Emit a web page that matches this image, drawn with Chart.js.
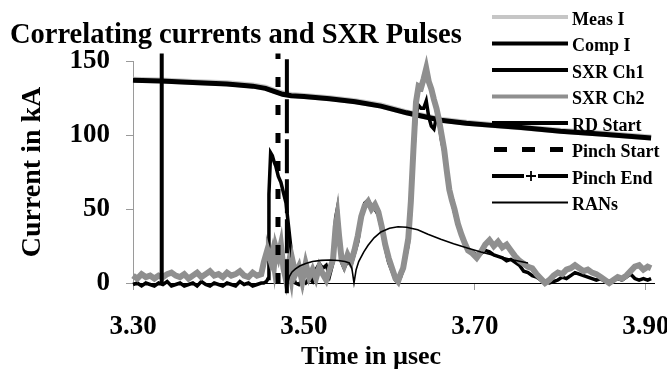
<!DOCTYPE html>
<html>
<head>
<meta charset="utf-8">
<script src="https://cdn.jsdelivr.net/npm/chart.js@4.4.0/dist/chart.umd.min.js"></script>
<style>
  html, body { margin: 0; padding: 0; background: #fff; }
  #wrap { width: 667px; height: 370px; }
</style>
</head>
<body>
<div id="wrap"><canvas id="c" width="667" height="370"></canvas></div>
<script>
// ---------- data ----------
const xTicks = [3.30, 3.50, 3.70, 3.90];
const yTicks = [0, 50, 100, 150];

// current traces (kA)
const tI    = [3.300,3.333,3.370,3.410,3.440,3.455,3.465,3.475,3.485,3.500,3.530,3.560,3.590,3.620,3.640,3.660,3.690,3.720,3.754,3.800,3.850,3.906];
const compI = [137,136.5,135.5,134.5,133,131.5,129.5,127.5,126.5,126,124.5,122.5,119.5,115,112.5,110,108,106.5,105,102.5,100.5,98];
const measI = [137.3,136.9,135.8,134.9,133.4,131.9,129.9,128.1,127.1,126.4,124.8,122.8,119.9,115.3,112.8,110.4,108.3,106.8,105.3,102.8,100.8,98.3];

// SXR channels
const tSXR = [3.300,3.305,3.310,3.315,3.320,3.325,3.330,3.335,3.340,3.345,3.350,3.355,3.360,3.365,3.370,3.375,3.380,3.385,3.390,3.395,3.400,3.405,3.410,3.415,3.420,3.425,3.430,3.435,3.440,3.445,3.450,
  3.453,3.456,3.458,3.459,3.461,3.463,3.465,3.467,3.470,3.473,3.476,3.479,3.482,3.485,3.487,3.490,3.494,3.498,3.502,3.506,3.510,3.514,3.518,3.522,3.526,3.530,3.534,3.537,3.539,3.541,3.544,3.547,3.551,3.555,3.559,3.563,3.567,3.571,3.575,3.579,3.583,3.587,3.591,3.595,3.599,3.603,3.607,3.610,3.613,3.616,3.619,3.622,3.625,3.628,3.631,3.634,3.637,3.640,3.643,3.646,3.649,3.652,3.655,3.658,3.661,3.664,3.667,3.670,3.673,3.676,3.680,3.684,3.688,3.692,3.697,3.702,3.707,3.712,3.717,3.722,3.727,3.732,3.737,3.742,3.747,3.752,3.757,3.762,3.767,3.772,3.777,3.782,3.787,3.792,3.797,3.802,3.807,3.812,3.817,3.822,3.827,3.832,3.837,3.842,3.847,3.852,3.857,3.862,3.867,3.872,3.877,3.882,3.887,3.892,3.897,3.902,3.906];
const ch2 = [5,3,6,4,5,3,5,4,6,7,5,4,6,3,5,7,4,6,8,5,6,4,7,5,6,8,5,4,7,5,6,
  14,20,17,19,15,20,12,24,18,26,10,2,12,3,14,6,11,1,13,4,9,3,11,6,2,9,16,38,45,32,16,12,19,14,22,32,45,52,55,50,53,48,38,26,17,10,3,1,6,10,20,30,55,90,122,133,132,138,145,136,131,124,118,110,100,90,76,63,56,50,40,33,27,22,20,17,21,26,29,25,28,24,26,22,18,15,13,11,10,6,3,0,2,5,7,6,9,10,12,10,8,9,7,6,4,2,0,2,4,3,5,8,11,12,9,11,10];
const ch1 = [-1,0,-2,0,-1,-2,0,-1,1,-2,-1,0,-2,-1,0,-2,1,-1,-2,0,-1,-2,0,-1,-2,1,-1,0,-2,-1,0,
  0,1,3,60,88,86,82,79,72,68,61,54,38,22,5,0,-1,2,0,3,1,9,13,10,12,5,14,44,50,34,14,10,15,12,20,28,44,54,56,52,50,46,36,24,14,8,2,1,4,9,18,26,50,85,114,120,118,118,123,112,106,104,112,108,96,88,74,62,55,48,39,32,26,23,21,19,20,22,21,19,18,17,15,16,14,12,8,7,5,4,2,1,0,1,2,4,3,5,7,6,5,4,3,2,3,1,1,2,3,2,4,6,3,2,3,2,3];

// RANs model curve
const tRAN = [3.481,3.483,3.486,3.490,3.495,3.502,3.510,3.520,3.530,3.540,3.548,3.553,3.556,3.5585,3.561,3.564,3.570,3.575,3.582,3.590,3.600,3.610,3.620,3.633,3.645,3.660,3.675,3.692,3.707,3.727,3.745,3.762];
const rans = [0,4.5,7.5,9.5,11.5,13.2,14.5,15.3,15.5,15.2,14.5,13.5,10,0,9,14.5,21,25.5,30.5,34.5,37,38,37.7,36,33,29.5,26.5,23.5,21,18,15.5,13.5];

// vertical markers: [time, bottom, top]
const rdStart    = [3.3336, -1, 155];
const pinchStart = [3.4696, 0, 155];
const pinchEnd   = [3.4800, -7, 155];

const seriesNames = ['Meas I','Comp I','SXR Ch1','SXR Ch2','RD Start','Pinch Start','Pinch End','RANs'];
// -------------------------------------------------

const pts = (ts, vs) => ts.map((t, i) => ({x: t, y: vs[i]}));
const vline = (m) => [{x: m[0], y: m[1]}, {x: m[0], y: m[2]}];

const FONT = '"Liberation Serif", "Times New Roman", serif';

const datasets = [
  {label: seriesNames[0], data: pts(tI, measI), borderColor: '#c6c6c6', borderWidth: 6, order: 9},
  {label: seriesNames[1], data: pts(tI, compI), borderColor: '#000', borderWidth: 5, order: 8},
  {label: seriesNames[2], data: pts(tSXR, ch1), borderColor: '#000', borderWidth: 3.5, order: 7},
  {label: seriesNames[3], data: pts(tSXR, ch2), borderColor: '#8f8f8f', borderWidth: 6, order: 6},
  {label: seriesNames[4], data: vline(rdStart), borderColor: '#000', borderWidth: 4, order: 2},
  {label: seriesNames[5], data: vline(pinchStart), borderColor: '#000', borderWidth: 5, borderDash: [10, 18], order: 3},
  {label: seriesNames[6], data: vline(pinchEnd), borderColor: '#000', borderWidth: 4, borderDash: [34, 6], order: 4, legendCross: true},
  {label: seriesNames[7], data: pts(tRAN, rans), borderColor: '#000', borderWidth: 1.6, order: 1}
].map(d => Object.assign({pointRadius: 0, tension: 0, fill: false, clip: false, borderJoinStyle: 'miter'}, d));

const decorPlugin = {
  id: 'decor',
  afterDraw(chart) {
    const ctx = chart.ctx;
    ctx.save();
    // title
    ctx.fillStyle = '#000';
    ctx.font = 'bold 28.5px ' + FONT;
    ctx.textAlign = 'left';
    ctx.textBaseline = 'alphabetic';
    ctx.fillText('Correlating currents and SXR Pulses', 10, 43);
    // legend
    ctx.font = 'bold 18px ' + FONT;
    ctx.textBaseline = 'middle';
    const x0 = 492, x1 = 568, tx = 572;
    chart.data.datasets.forEach((ds, i) => {
      const y = 17 + i * 26.5;
      ctx.strokeStyle = ds.borderColor;
      ctx.lineWidth = ds.label === 'RANs' ? 2 : 4;
      ctx.lineCap = 'butt';
      if (ds.legendCross) {
        ctx.setLineDash([]);
        ctx.beginPath();
        ctx.moveTo(x0, y); ctx.lineTo(524, y);
        ctx.moveTo(538, y); ctx.lineTo(x1, y);
        ctx.stroke();
        ctx.lineWidth = 1.8;
        ctx.beginPath();
        ctx.moveTo(526, y); ctx.lineTo(536, y);
        ctx.moveTo(531, y - 5); ctx.lineTo(531, y + 5);
        ctx.stroke();
      } else {
        if (ds.borderDash) ctx.lineWidth = 5;
        ctx.setLineDash(ds.borderDash ? [13, 15] : []);
        ctx.beginPath();
        ctx.moveTo(ds.borderDash ? x0 + 2 : x0, y); ctx.lineTo(x1, y);
        ctx.stroke();
      }
      ctx.setLineDash([]);
      ctx.fillStyle = '#000';
      ctx.fillText(ds.label, tx, y + 3);
    });
    ctx.restore();
  }
};

new Chart(document.getElementById('c'), {
  type: 'line',
  data: {datasets},
  options: {
    responsive: false,
    animation: false,
    layout: {padding: {top: 61, right: 12.5, left: 0, bottom: 0}},
    plugins: {legend: {display: false}, tooltip: {enabled: false}, title: {display: false}},
    scales: {
      x: {
        type: 'linear',
        min: 3.30, max: 3.91,
        afterBuildTicks: (s) => { s.ticks = xTicks.map(v => ({value: v})); },
        afterFit: (s) => { s.height = 87; s.paddingLeft = 0; s.paddingRight = 0; },
        border: {display: true, color: '#000', width: 1},
        grid: {display: true, drawOnChartArea: false, tickLength: 7, tickColor: '#9a9a9a', tickWidth: 1},
        ticks: {
          color: '#000', padding: 21, maxRotation: 0, autoSkip: false,
          font: {family: FONT, size: 27, weight: 'bold'},
          callback: (v) => Number(v).toFixed(2)
        },
        title: {
          display: true, text: 'Time in \u00b5sec       ', color: '#000',
          font: {family: FONT, size: 26, weight: 'bold', lineHeight: 1},
          padding: {top: 0, bottom: 0}
        }
      },
      y: {
        min: 0, max: 150,
        afterBuildTicks: (s) => { s.ticks = yTicks.map(v => ({value: v})); },
        afterFit: (s) => { s.width = 133; s.paddingTop = 0; s.paddingBottom = 0; },
        border: {display: true, color: '#9a9a9a', width: 1},
        grid: {display: true, drawOnChartArea: false, tickLength: 7, tickColor: '#9a9a9a', tickWidth: 1},
        ticks: {
          color: '#000', padding: 16,
          font: {family: FONT, size: 27, weight: 'bold'}
        },
        title: {
          display: true, text: 'Current in kA', color: '#000',
          font: {family: FONT, size: 28, weight: 'bold', lineHeight: 1.2},
          padding: {top: 16, bottom: 0}
        }
      }
    }
  },
  plugins: [decorPlugin]
});
</script>
</body>
</html>
